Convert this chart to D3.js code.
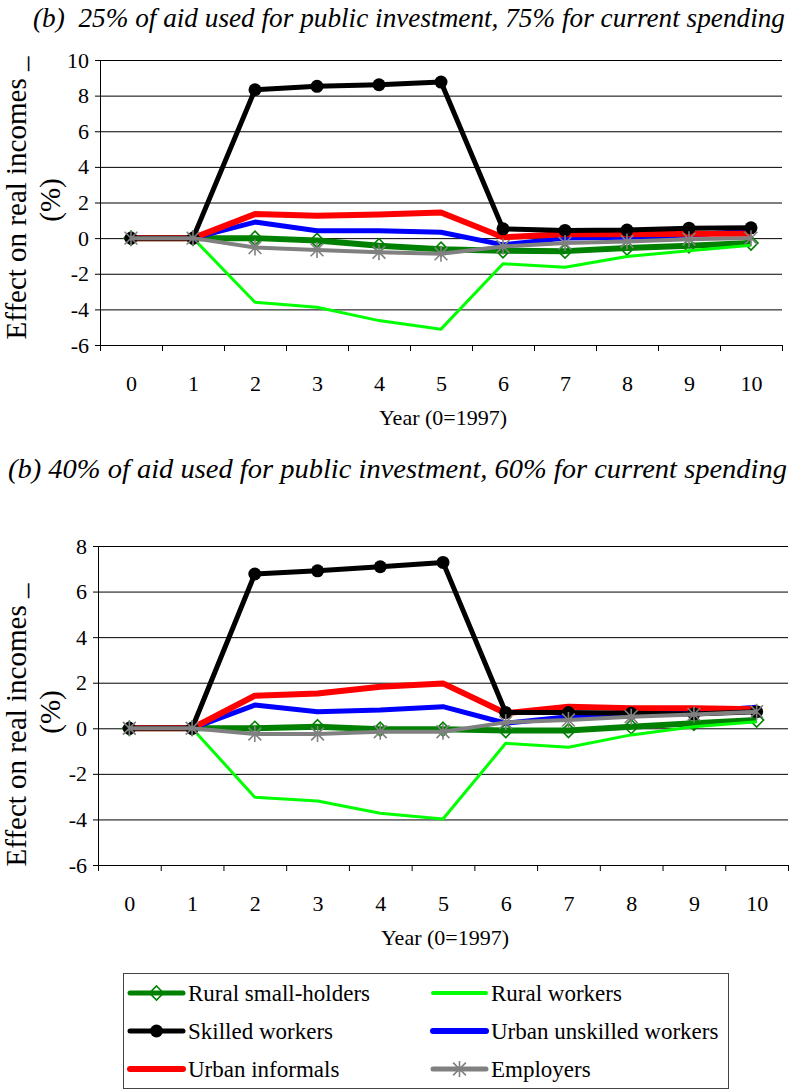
<!DOCTYPE html>
<html>
<head>
<meta charset="utf-8">
<script src="https://cdn.jsdelivr.net/npm/d3@7"></script>
<style>
  body { margin: 0; background: #fff; }
  svg { display: block; }
</style>
</head>
<body>
<svg width="789" height="1091"></svg>
<script>
var years = [0, 1, 2, 3, 4, 5, 6, 7, 8, 9, 10];

// panel 1: 25% public investment
var topSmallHolders = [0, 0, 0, -0.13, -0.43, -0.62, -0.71, -0.73, -0.56, -0.43, -0.28];
var topRuralWorkers = [0, 0, -3.6, -3.88, -4.63, -5.11, -1.44, -1.63, -1.03, -0.71, -0.4];
var topSkilled = [0, 0, 8.33, 8.52, 8.61, 8.76, 0.52, 0.43, 0.45, 0.56, 0.58];
var topUnskilled = [0, 0, 0.9, 0.41, 0.41, 0.33, -0.38, 0.0, 0.05, 0.17, 0.4];
var topInformals = [0, 0, 1.35, 1.25, 1.32, 1.44, 0.05, 0.22, 0.22, 0.25, 0.25];
var topEmployers = [0, 0, -0.53, -0.66, -0.79, -0.88, -0.47, -0.28, -0.19, -0.06, 0.0];

// panel 2: 40% public investment
var botSmallHolders = [0, 0, 0, 0.07, -0.04, -0.04, -0.1, -0.1, 0.07, 0.22, 0.36];
var botRuralWorkers = [0, 0, -3.03, -3.19, -3.73, -3.98, -0.66, -0.83, -0.29, 0.07, 0.29];
var botSkilled = [0, 0, 6.77, 6.91, 7.09, 7.28, 0.69, 0.69, 0.66, 0.63, 0.73];
var botUnskilled = [0, 0, 1.02, 0.73, 0.8, 0.95, 0.22, 0.51, 0.66, 0.73, 0.92];
var botInformals = [0, 0, 1.43, 1.53, 1.82, 1.97, 0.66, 0.95, 0.88, 0.88, 0.84];
var botEmployers = [0, 0, -0.25, -0.25, -0.15, -0.15, 0.26, 0.36, 0.51, 0.61, 0.73];

var seriesNames = ['Rural small-holders', 'Rural workers', 'Skilled workers',
  'Urban unskilled workers', 'Urban informals', 'Employers'];
var title1 = '(b)  25% of aid used for public investment, 75% for current spending';
var title2 = '(b) 40% of aid used for public investment, 60% for current spending';
var yLabel = 'Effect on real incomes _';
var xLabel = 'Year (0=1997)';

var FONT = "'Liberation Serif', 'Times New Roman', serif";

// look of each series
var styles = {
  'Rural small-holders': { color: '#008000', width: 6, marker: 'diamond' },
  'Rural workers': { color: '#00ff00', width: 3, marker: null },
  'Skilled workers': { color: '#000000', width: 5, marker: 'circle' },
  'Urban unskilled workers': { color: '#0000ff', width: 5, marker: null },
  'Urban informals': { color: '#ff0000', width: 6, marker: null },
  'Employers': { color: '#808080', width: 4, marker: 'star' }
};
var drawOrder = ['Rural small-holders', 'Rural workers', 'Urban unskilled workers',
  'Urban informals', 'Skilled workers', 'Employers'];

var svg = d3.select('svg').attr('font-family', FONT);

function drawMarker(g, type, x, y, color) {
  if (type === 'circle') {
    g.append('circle').attr('cx', x).attr('cy', y).attr('r', 6.5).attr('fill', color);
  } else if (type === 'diamond') {
    var s = 7;
    g.append('path')
      .attr('d', 'M' + x + ',' + (y - s) + 'L' + (x + s) + ',' + y + 'L' + x + ',' + (y + s) + 'L' + (x - s) + ',' + y + 'Z')
      .attr('fill', 'none').attr('stroke', color).attr('stroke-width', 1.6);
  } else if (type === 'star') {
    var s = 8;
    g.append('path')
      .attr('d', 'M' + x + ',' + (y - s) + 'V' + (y + s) +
        'M' + (x - s * 0.8) + ',' + (y - s * 0.8) + 'L' + (x + s * 0.8) + ',' + (y + s * 0.8) +
        'M' + (x - s * 0.8) + ',' + (y + s * 0.8) + 'L' + (x + s * 0.8) + ',' + (y - s * 0.8))
      .attr('stroke', color).attr('stroke-width', 1.6).attr('fill', 'none');
  }
}

function drawPanel(p) {
  var g = svg.append('g');
  var yScale = d3.scaleLinear().domain(p.yDomain).range([p.bottom, p.top]);
  var xEdge = d3.scaleLinear().domain([0, years.length]).range([p.left, p.right]);
  var xScale = d3.scalePoint().domain(years).range([p.left, p.right]).padding(0.5);
  var yTicks = d3.range(p.yDomain[0], p.yDomain[1] + 1, 2);

  // gridlines
  g.append('g')
    .attr('transform', 'translate(' + p.left + ',0)')
    .call(d3.axisLeft(yScale).tickValues(yTicks).tickSize(-(p.right - p.left)).tickFormat(''))
    .call(a => a.select('.domain').remove())
    .selectAll('line').attr('stroke', '#000');

  // y axis with labels (plain hyphen for negatives)
  g.append('g')
    .attr('transform', 'translate(' + p.left + ',0)')
    .call(d3.axisLeft(yScale).tickValues(yTicks).tickSize(5).tickSizeOuter(0).tickPadding(6)
      .tickFormat(d => String(d)))
    .attr('font-family', FONT).attr('font-size', 22)
    .call(a => a.select('.domain').attr('stroke', '#000'))
    .call(a => a.selectAll('text').attr('fill', '#000'));

  // x axis: boundary ticks
  g.append('g')
    .attr('transform', 'translate(0,' + p.bottom + ')')
    .call(d3.axisBottom(xEdge).tickValues(d3.range(0, years.length + 1)).tickSize(6).tickSizeOuter(0).tickFormat(''))
    .call(a => a.select('.domain').attr('stroke', '#000'));

  // x axis: category labels
  g.append('g')
    .attr('transform', 'translate(0,' + p.bottom + ')')
    .call(d3.axisBottom(xScale).tickSize(0).tickPadding(30).tickFormat(d => String(d)))
    .attr('font-family', FONT).attr('font-size', 22)
    .call(a => a.select('.domain').remove())
    .call(a => a.selectAll('text').attr('fill', '#000'));

  g.append('text')
    .attr('x', (p.left + p.right) / 2 + 2).attr('y', p.bottom + 80)
    .attr('text-anchor', 'middle').attr('font-size', 22)
    .text(xLabel);

  // y label, two lines
  g.append('text')
    .attr('transform', 'translate(' + 26 + ',' + p.yLabelMid + ') rotate(-90)')
    .attr('text-anchor', 'middle').attr('font-size', 29)
    .text(yLabel);
  g.append('text')
    .attr('transform', 'translate(' + 60 + ',' + p.pctMid + ') rotate(-90)')
    .attr('text-anchor', 'middle').attr('font-size', 29)
    .text('(%)');

  var line = d3.line()
    .x((d, i) => xScale(years[i]))
    .y(d => yScale(d));

  drawOrder.forEach(name => {
    var st = styles[name];
    var vals = p.series[name];
    g.append('path')
      .attr('d', line(vals))
      .attr('fill', 'none')
      .attr('stroke', st.color)
      .attr('stroke-width', st.width)
      .attr('stroke-linejoin', 'round');
    if (st.marker) {
      vals.forEach((v, i) => drawMarker(g, st.marker, xScale(years[i]), yScale(v), st.color));
    }
  });
}

drawPanel({
  left: 100, right: 782, top: 60, bottom: 345, yDomain: [-6, 10],
  yLabelMid: 198, pctMid: 200,
  series: {
    'Rural small-holders': topSmallHolders,
    'Rural workers': topRuralWorkers,
    'Skilled workers': topSkilled,
    'Urban unskilled workers': topUnskilled,
    'Urban informals': topInformals,
    'Employers': topEmployers
  }
});

drawPanel({
  left: 98, right: 788, top: 546, bottom: 865, yDomain: [-6, 8],
  yLabelMid: 725, pctMid: 712,
  series: {
    'Rural small-holders': botSmallHolders,
    'Rural workers': botRuralWorkers,
    'Skilled workers': botSkilled,
    'Urban unskilled workers': botUnskilled,
    'Urban informals': botInformals,
    'Employers': botEmployers
  }
});

// titles: italic, fitted to the widths seen in the picture
svg.append('text')
  .attr('x', 8).attr('y', 478)
  .attr('font-size', 28).attr('font-style', 'italic')
  .attr('textLength', 779).attr('lengthAdjust', 'spacingAndGlyphs')
  .text(title2);

svg.append('text')
  .attr('x', 33).attr('y', 27)
  .attr('font-size', 27).attr('font-style', 'italic')
  .attr('xml:space', 'preserve')
  .style('white-space', 'pre')
  .attr('textLength', 752).attr('lengthAdjust', 'spacingAndGlyphs')
  .text(title1);

// legend
var leg = svg.append('g');
leg.append('rect')
  .attr('x', 123.5).attr('y', 973.5).attr('width', 605).attr('height', 115)
  .attr('fill', 'none').attr('stroke', '#444').attr('stroke-width', 1);
var legendWidths = {
  'Rural small-holders': 5, 'Rural workers': 4, 'Skilled workers': 5,
  'Urban unskilled workers': 6, 'Urban informals': 6, 'Employers': 5
};
seriesNames.forEach((name, i) => {
  var col = i % 2, row = Math.floor(i / 2);
  var x0 = col === 0 ? 130 : 433;
  var y = 993 + row * 38;
  var st = styles[name];
  leg.append('line')
    .attr('x1', x0).attr('x2', x0 + 53).attr('y1', y).attr('y2', y)
    .attr('stroke', st.color).attr('stroke-width', legendWidths[name]).attr('stroke-linecap', 'round');
  if (st.marker) drawMarker(leg, st.marker, x0 + 26.5, y, st.color);
  leg.append('text')
    .attr('x', x0 + 58).attr('y', y).attr('dy', '0.35em')
    .attr('font-size', 23)
    .text(name);
});
</script>
</body>
</html>
